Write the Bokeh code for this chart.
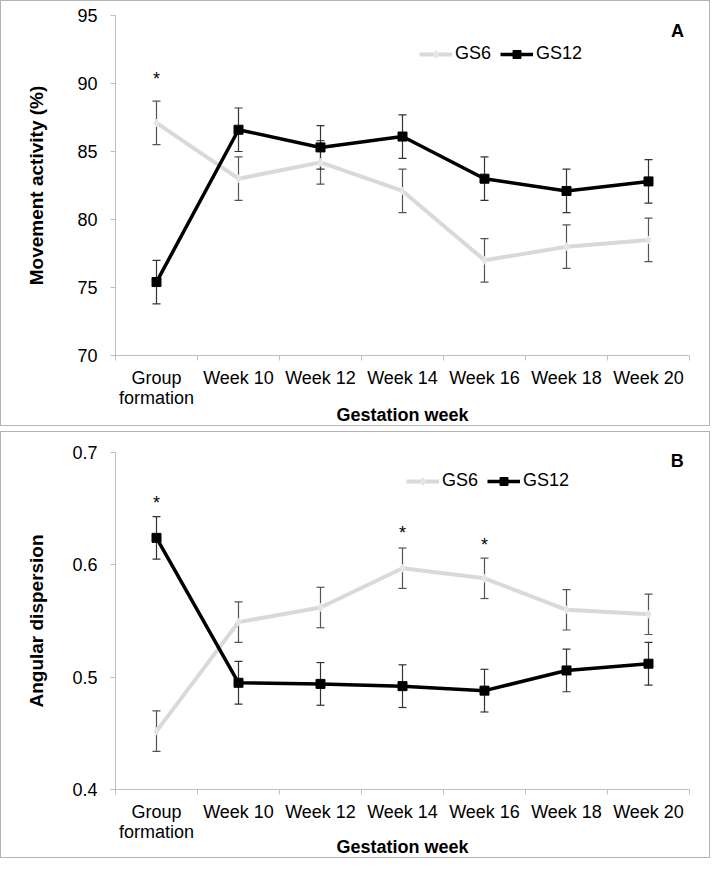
from bokeh.plotting import figure
from bokeh.models import (ColumnDataSource, Whisker, TeeHead, FixedTicker, Legend,
                          LegendItem, Label, Range1d)
from bokeh.layouts import column
from bokeh.embed import file_html
from bokeh.resources import INLINE
from bokeh.core.properties import value

# ---------------- data ----------------
categories = ["Group formation", "Week 10", "Week 12", "Week 14", "Week 16", "Week 18", "Week 20"]
tick_labels = ["Group\nformation", "Week 10", "Week 12", "Week 14", "Week 16", "Week 18", "Week 20"]

gs6_a = [87.1, 83.0, 84.2, 82.1, 77.0, 78.0, 78.5]
gs6_a_err = [1.6, 1.6, 1.6, 1.6, 1.6, 1.6, 1.6]
gs12_a = [75.4, 86.6, 85.3, 86.1, 83.0, 82.1, 82.8]
gs12_a_err = [1.6, 1.6, 1.6, 1.6, 1.6, 1.6, 1.6]
stars_a_idx = [0]
stars_a_y = [90.3]

gs6_b = [0.452, 0.549, 0.562, 0.597, 0.588, 0.560, 0.556]
gs6_b_err = [0.018, 0.018, 0.018, 0.018, 0.018, 0.018, 0.018]
gs12_b = [0.624, 0.495, 0.494, 0.492, 0.488, 0.506, 0.512]
gs12_b_err = [0.019, 0.019, 0.019, 0.019, 0.019, 0.019, 0.019]
stars_b_idx = [0, 3, 4]
stars_b_y = [0.655, 0.628, 0.618]

y_a_ticks = [70, 75, 80, 85, 90, 95]
y_b_ticks = [0.4, 0.5, 0.6, 0.7]

FONT = "Liberation Sans"
GS6_COLOR = "#d9d9d9"
GS12_COLOR = "#000000"
AXIS_COLOR = "#bfbfbf"


def make_panel(gs6, gs6_err, gs12, gs12_err, star_idx, star_y, yticks, ylabel, letter,
               height, mb_left, mb_top, mb_bottom, legend_loc, letter_pos, fmt,
               xtitle_standoff, ytitle_standoff):
    xs = [i + 0.5 for i in range(len(categories))]
    p = figure(width=710, height=height, output_backend="svg", toolbar_location=None,
               x_range=Range1d(0, len(categories)), y_range=Range1d(yticks[0], yticks[-1]),
               min_border_left=mb_left, min_border_right=22, min_border_top=mb_top,
               min_border_bottom=mb_bottom,
               styles={"border": "1px solid #b4b4b4"})
    p.outline_line_color = None
    p.grid.visible = False
    p.background_fill_color = "white"
    p.border_fill_color = "white"

    # x axis
    xa = p.xaxis[0]
    xa.ticker = FixedTicker(ticks=xs, minor_ticks=list(range(len(categories) + 1)))
    xa.major_label_overrides = {x: t for x, t in zip(xs, tick_labels)}
    xa.major_tick_line_color = None
    xa.minor_tick_line_color = AXIS_COLOR
    xa.minor_tick_in = 0
    xa.minor_tick_out = 5
    xa.axis_line_color = AXIS_COLOR
    xa.major_label_text_font = FONT
    xa.major_label_text_font_size = "18px"
    xa.major_label_text_color = "black"
    xa.major_label_text_line_height = 1.0
    xa.major_label_standoff = 6
    xa.axis_label = "Gestation week"
    xa.axis_label_text_font = FONT
    xa.axis_label_text_font_size = "18px"
    xa.axis_label_text_font_style = "bold"
    xa.axis_label_text_color = "black"
    xa.axis_label_standoff = xtitle_standoff

    # y axis
    ya = p.yaxis[0]
    ya.ticker = FixedTicker(ticks=yticks, minor_ticks=[])
    ya.major_label_overrides = {t: fmt(t) for t in yticks}
    ya.axis_line_color = AXIS_COLOR
    ya.major_tick_line_color = AXIS_COLOR
    ya.major_tick_in = 0
    ya.major_tick_out = 5
    ya.major_label_text_font = FONT
    ya.major_label_text_font_size = "18px"
    ya.major_label_text_color = "black"
    ya.major_label_standoff = 13
    ya.axis_label = ylabel
    ya.axis_label_text_font = FONT
    ya.axis_label_text_font_size = "19px"
    ya.axis_label_text_font_style = "bold"
    ya.axis_label_text_color = "black"
    ya.axis_label_standoff = ytitle_standoff

    src6 = ColumnDataSource(dict(x=xs, y=gs6,
                                 lo=[v - e for v, e in zip(gs6, gs6_err)],
                                 hi=[v + e for v, e in zip(gs6, gs6_err)]))
    src12 = ColumnDataSource(dict(x=xs, y=gs12,
                                  lo=[v - e for v, e in zip(gs12, gs12_err)],
                                  hi=[v + e for v, e in zip(gs12, gs12_err)]))

    l6 = p.line("x", "y", source=src6, line_color=GS6_COLOR, line_width=4)
    m6 = p.scatter("x", "y", source=src6, marker="diamond", size=8,
                   fill_color="#e6e6e6", line_color="#e6e6e6")
    w6 = Whisker(source=src6, base="x", upper="hi", lower="lo", line_color="#555555",
                 line_width=1.2,
                 upper_head=TeeHead(size=8, line_color="#555555", line_width=1.2),
                 lower_head=TeeHead(size=8, line_color="#555555", line_width=1.2))
    p.add_layout(w6)

    l12 = p.line("x", "y", source=src12, line_color=GS12_COLOR, line_width=3.5)
    m12 = p.scatter("x", "y", source=src12, marker="square", size=9,
                    fill_color=GS12_COLOR, line_color=GS12_COLOR)
    w12 = Whisker(source=src12, base="x", upper="hi", lower="lo", line_color="#333333",
                  line_width=1.2,
                  upper_head=TeeHead(size=8, line_color="#333333", line_width=1.2),
                  lower_head=TeeHead(size=8, line_color="#333333", line_width=1.2))
    p.add_layout(w12)

    # significance stars
    p.text(x=[xs[i] for i in star_idx], y=star_y, text=["*"] * len(star_idx),
           text_font=value(FONT), text_font_size="18px", text_align="center",
           text_baseline="middle", text_color="black")

    legend = Legend(items=[LegendItem(label="GS6", renderers=[l6, m6]),
                           LegendItem(label="GS12", renderers=[l12, m12])],
                    orientation="horizontal", location=legend_loc,
                    border_line_color=None, background_fill_alpha=0,
                    padding=0, margin=0, spacing=9, label_standoff=3,
                    glyph_width=33, glyph_height=20, label_height=20,
                    label_text_font=FONT, label_text_font_size="18px",
                    label_text_color="black")
    p.add_layout(legend, "center")

    p.add_layout(Label(x=letter_pos[0], y=letter_pos[1], text=letter, text_font=FONT,
                       text_font_size="18px", text_font_style="bold",
                       text_align="center", text_baseline="middle", text_color="black"))
    return p


pA = make_panel(gs6_a, gs6_a_err, gs12_a, gs12_a_err, stars_a_idx, stars_a_y, y_a_ticks,
                "Movement activity (%)", "A", 426, 112, 14, 71, (304, 291),
                (6.854, 93.83), lambda t: "%d" % t, -6, 27)
pB = make_panel(gs6_b, gs6_b_err, gs12_b, gs12_b_err, stars_b_idx, stars_b_y, y_b_ticks,
                "Angular dispersion", "B", 427, 114, 20, 66, (291, 298),
                (6.85, 0.692), lambda t: "%.1f" % t, -8, 22)

layout = column(pA, pB, spacing=5)
open("out.html", "w").write(file_html(layout, INLINE))
